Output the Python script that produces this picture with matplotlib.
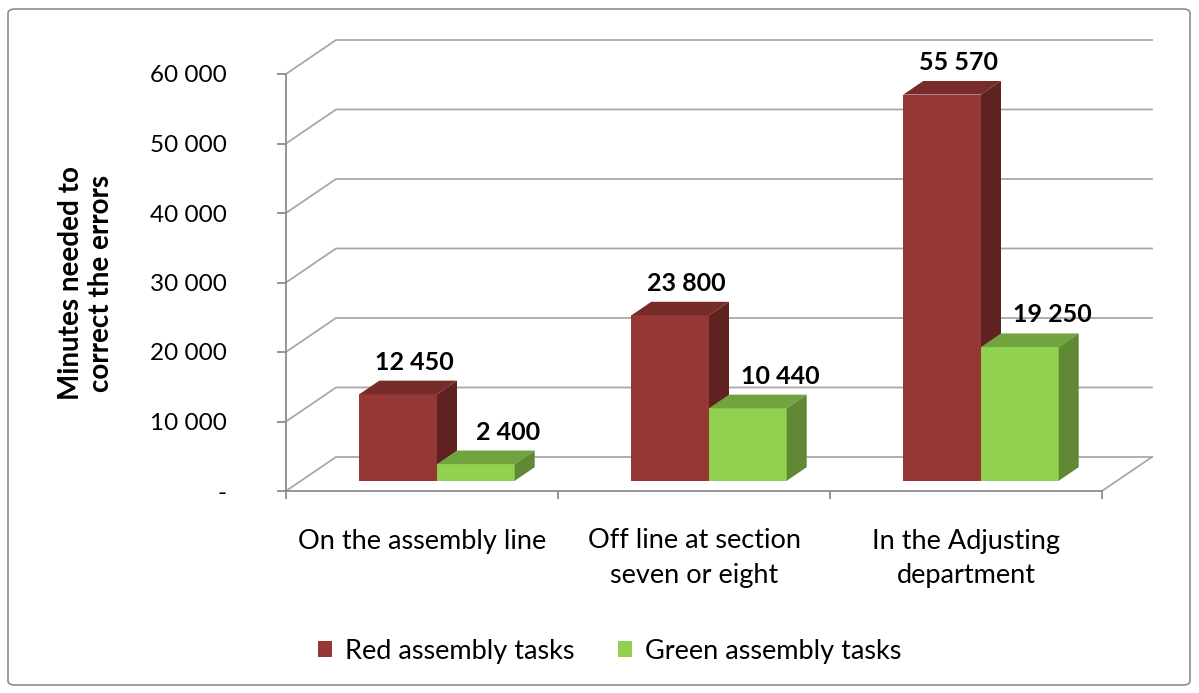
import matplotlib
matplotlib.use("Agg")
import matplotlib.pyplot as plt
from matplotlib.patches import Polygon, Patch, FancyBboxPatch
from matplotlib.lines import Line2D

# ---- data ----
categories = ["On the assembly line", "Off line at section\nseven or eight", "In the Adjusting\ndepartment"]
red_values = [12450, 23800, 55570]
green_values = [2400, 10440, 19250]
series_names = ["Red assembly tasks", "Green assembly tasks"]
y_ticks = [0, 10000, 20000, 30000, 40000, 50000, 60000]
y_tick_labels = ["-", "10 000", "20 000", "30 000", "40 000", "50 000", "60 000"]
y_label = "Minutes needed to\ncorrect the errors"

# ---- style ----
FONT = ["Lato", "DejaVu Sans"]
plt.rcParams["font.family"] = FONT
W, H = 1199, 693
fig = plt.figure(figsize=(W / 100, H / 100), dpi=100)

# chart area border
fig.patches.append(FancyBboxPatch((8 / W, 8 / H), (W - 17) / W, (H - 17) / H,
                                  boxstyle="round,pad=0,rounding_size=0.006",
                                  transform=fig.transFigure, fill=False,
                                  edgecolor="#8c8c8c", lw=1.2))

ax = fig.add_axes([286 / W, (H - 491) / H, 816 / W, (491 - 74) / H])
n = len(categories)
ax.set_xlim(0, n)
ax.set_ylim(0, 60000)
ax.patch.set_visible(False)

AX_COL = "#8e8e8e"
GRID_COL = "#a8a8a8"
DX = 50 / 272.0          # depth offset of back wall (category units)
DY = 60000 / 417.0 * 34  # depth offset of back wall (value units)

# back wall gridlines + side-wall diagonals
for v in y_ticks:
    ax.add_line(Line2D([0, DX, n + DX], [v, v + DY, v + DY], color=GRID_COL, lw=1.3,
                       clip_on=False, zorder=1))
# floor right edge
ax.add_line(Line2D([n, n + DX], [0, DY], color=GRID_COL, lw=1.3, clip_on=False, zorder=1))

# spines / ticks
for s in ["top", "right"]:
    ax.spines[s].set_visible(False)
for s in ["left", "bottom"]:
    ax.spines[s].set_color(AX_COL)
    ax.spines[s].set_linewidth(1.3)

ax.set_yticks(y_ticks)
ax.set_yticklabels(y_tick_labels)
ax.tick_params(axis="y", direction="out", length=6.5, width=1.3, color=AX_COL,
               pad=36, labelsize=17.5)
ax.set_xticks(range(n + 1))
ax.set_xticklabels([""] * (n + 1))
ax.tick_params(axis="x", which="major", direction="out", length=6, width=1.3, color=AX_COL)
ax.set_xticks([i + 0.5 for i in range(n)], minor=True)
ax.set_xticklabels(categories, minor=True, linespacing=1.45)
ax.tick_params(axis="x", which="minor", length=0, pad=27, labelsize=19.5)
for t in ax.get_yticklabels():
    t.set_horizontalalignment("right")

# bars (3D look)
gap = 1.5
bw = 1.0 / (2 + gap)
front = 0.3
depth = 0.4
fdx, fdy = front * DX, front * DY
bdx, bdy = depth * DX, depth * DY
label_shift = [bdx * 0.8, bdx * 0.8 + 0.06]

colors = [("#953735", "#772c2a", "#602220"), ("#92d050", "#71a33e", "#5f8a33")]
for si, vals in enumerate([red_values, green_values]):
    fc, tc, sc = colors[si]
    xs = [i + gap * bw / 2 + si * bw + fdx for i in range(n)]
    bars = ax.bar(xs, vals, width=bw, bottom=fdy, align="edge", color=fc,
                  edgecolor="none", zorder=3 + si, clip_on=False,
                  label=series_names[si])
    for rect, v in zip(bars, vals):
        x0 = rect.get_x()
        x1 = x0 + rect.get_width()
        top = fdy + v
        ax.add_patch(Polygon([(x0, top), (x1, top), (x1 + bdx, top + bdy), (x0 + bdx, top + bdy)],
                             closed=True, facecolor=tc, edgecolor="none", zorder=3 + si, clip_on=False))
        ax.add_patch(Polygon([(x1, fdy), (x1 + bdx, fdy + bdy), (x1 + bdx, top + bdy), (x1, top)],
                             closed=True, facecolor=sc, edgecolor="none", zorder=3 + si, clip_on=False))
        ax.annotate(f"{v:,}".replace(",", " "),
                    (x0 + rect.get_width() / 2 + label_shift[si], top + bdy),
                    xytext=(0, 5), textcoords="offset points", ha="center", va="bottom",
                    fontsize=18, fontweight="bold", zorder=10, annotation_clip=False)

# y label
fig.text(86 / W, 1 - 283 / H, y_label, rotation=90, ha="center", va="center",
         fontsize=20, fontweight="bold", linespacing=1.15)

# legend
handles = [Patch(facecolor=colors[0][0]), Patch(facecolor=colors[1][0])]
fig.legend(handles, series_names, loc="center", bbox_to_anchor=(610 / W, 1 - 651 / H),
           ncol=2, frameon=False, fontsize=19.5, handlelength=0.5, handleheight=0.5,
           handletextpad=0.5, columnspacing=1.6)

fig.savefig("out.png", dpi=100)
